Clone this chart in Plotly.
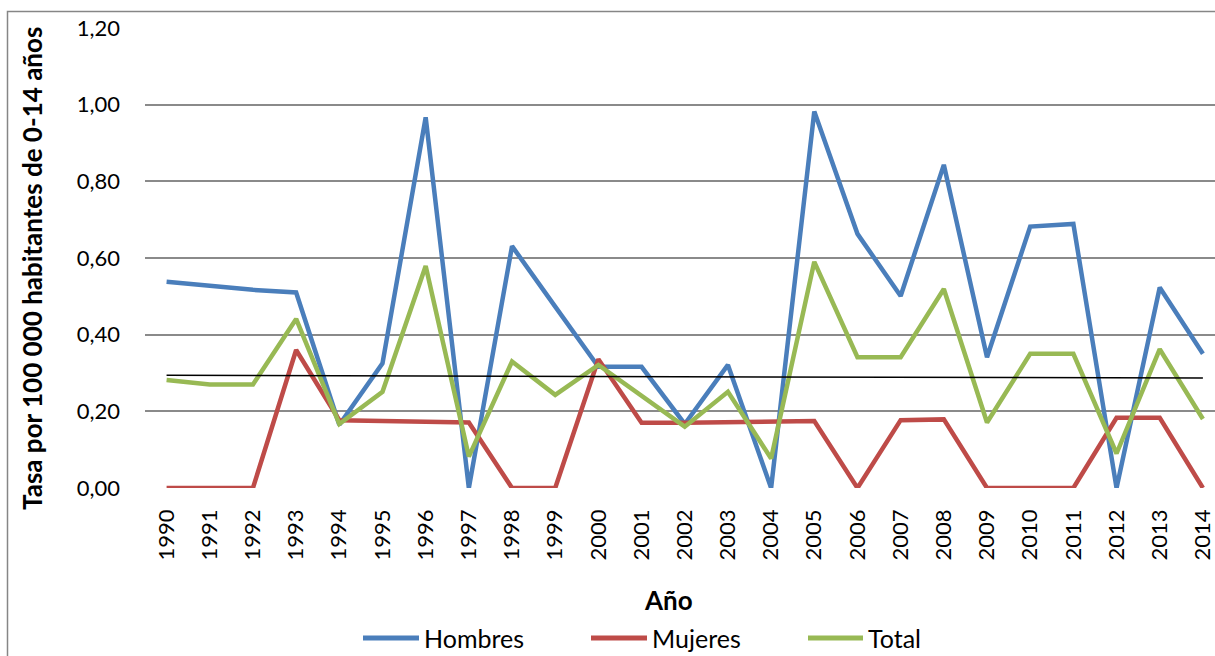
import numpy as np
import plotly.graph_objects as go

# Data: rate per 100 000 inhabitants aged 0-14, by year
years = [str(y) for y in range(1990, 2015)]
hombres = [0.538, 0.527, 0.517, 0.510, 0.165, 0.325, 0.967, 0.000, 0.631, 0.473,
           0.316, 0.316, 0.167, 0.321, 0.000, 0.982, 0.663, 0.501, 0.843, 0.341,
           0.682, 0.689, 0.000, 0.523, 0.350]
mujeres = [0.000, 0.000, 0.000, 0.360, 0.177, 0.175, 0.173, 0.171, 0.000, 0.000,
           0.336, 0.170, 0.170, 0.171, 0.172, 0.175, 0.000, 0.177, 0.179, 0.000,
           0.000, 0.000, 0.183, 0.183, 0.000]
total = [0.282, 0.270, 0.270, 0.441, 0.167, 0.251, 0.579, 0.082, 0.330, 0.243,
         0.321, 0.240, 0.160, 0.251, 0.077, 0.590, 0.341, 0.341, 0.519, 0.171,
         0.350, 0.350, 0.090, 0.362, 0.180]
y_tick_values = [0.0, 0.2, 0.4, 0.6, 0.8, 1.0, 1.2]
y_tick_labels = ["0,00", "0,20", "0,40", "0,60", "0,80", "1,00", "1,20"]

series_names = ["Hombres", "Mujeres", "Total"]
series_values = [hombres, mujeres, total]
series_colors = ["#4A7EBB", "#BE4B48", "#98B954"]

FONT = "Lato"
W, H = 1215, 656
L, R, T, B = 145, 0, 28, 168


def px_x(x):
    return (x - L) / (W - L - R)


def px_y(y):
    return (H - B - y) / (H - T - B)


fig = go.Figure()

for name, vals, col in zip(series_names, series_values, series_colors):
    fig.add_trace(go.Scatter(x=years, y=vals, mode="lines", name=name,
                             line=dict(color=col, width=4.5), showlegend=False))

# Linear trend of the total series
idx = np.arange(len(total))
slope, intercept = np.polyfit(idx, np.array(total), 1)
trend = slope * idx + intercept
fig.add_trace(go.Scatter(x=years, y=trend, mode="lines", name="Lineal (Total)",
                         line=dict(color="black", width=1.5), showlegend=False))

fig.update_layout(
    width=W, height=H,
    margin=dict(l=L, r=R, t=T, b=B),
    paper_bgcolor="white", plot_bgcolor="white",
    font=dict(family=FONT, color="black"),
    xaxis=dict(type="category", range=[-0.5, 24.28], showgrid=False,
               showline=False, zeroline=False, ticks="",
               tickangle=-90, tickfont=dict(size=22, family=FONT),
               ticklabelstandoff=16),
    yaxis=dict(range=[0, 1.2], tickvals=y_tick_values, ticktext=y_tick_labels,
               showgrid=True, gridcolor="#8a8a8a", gridwidth=1.5,
               zeroline=False, showline=False, ticks="",
               tickfont=dict(size=22, family=FONT), ticklabelstandoff=24),
)

annotations = [
    dict(text="<b>Tasa por 100 000 habitantes de 0-14 años</b>", textangle=-90,
         xref="paper", yref="paper", x=px_x(32), y=px_y(269),
         xanchor="center", yanchor="middle", showarrow=False,
         font=dict(size=26, family=FONT, color="black")),
    dict(text="<b>Año</b>", xref="paper", yref="paper", x=px_x(668), y=px_y(600),
         xanchor="center", yanchor="middle", showarrow=False,
         font=dict(size=26, family=FONT, color="black")),
]

shapes = [
    # chart frame
    dict(type="rect", xref="paper", yref="paper",
         x0=px_x(7.5), x1=px_x(W + 20), y0=px_y(H + 20), y1=px_y(11.5),
         line=dict(color="#868686", width=1.5), fillcolor="rgba(0,0,0,0)",
         layer="below"),
]

# Legend keys
legend_line = [(363, 419), (591, 647), (808, 863)]
for (x0, x1), name, col in zip(legend_line, series_names, series_colors):
    shapes.append(dict(type="line", xref="paper", yref="paper",
                       x0=px_x(x0), x1=px_x(x1), y0=px_y(638), y1=px_y(638),
                       line=dict(color=col, width=5)))
    annotations.append(dict(text=name, xref="paper", yref="paper",
                            x=px_x(x1 + 3), y=px_y(638), xanchor="left",
                            yanchor="middle", showarrow=False,
                            font=dict(size=25, family=FONT, color="black")))

fig.update_layout(annotations=annotations, shapes=shapes)

fig.write_html("out.html")
